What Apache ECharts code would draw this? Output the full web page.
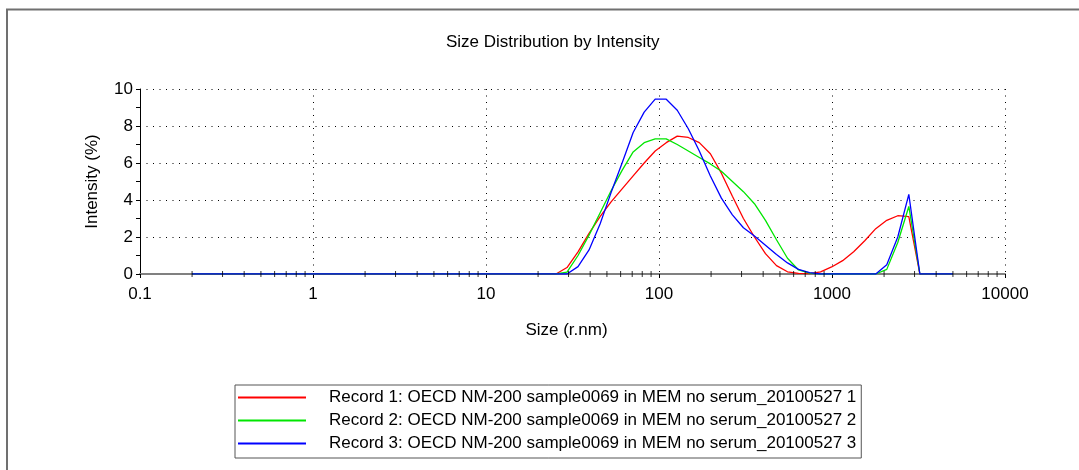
<!DOCTYPE html>
<html>
<head>
<meta charset="utf-8">
<script src="https://cdn.jsdelivr.net/npm/echarts@6/dist/echarts.min.js"></script>
<style>
html,body{margin:0;padding:0;background:#fff;}
#c{width:1079px;height:470px;}
</style>
</head>
<body>
<div id="c"></div>
<script>
// Size bins (radius, nm)
const sizes = [0.2,0.2316,0.2683,0.3107,0.3598,0.4166,0.4825,0.5587,0.647,0.7495,
  0.868,1.005,1.164,1.348,1.561,1.808,2.094,2.425,2.808,3.252,
  3.766,4.361,5.05,5.85,6.77,7.845,9.085,10.52,12.18,14.11,
  16.34,18.92,21.91,25.38,29.39,34.03,39.41,45.64,52.85,61.2,
  70.9,82.1,95.05,110.1,127.5,147.7,171.0,198.1,229.4,265.6,
  307.6,356.2,412.5,477.7,553.0,640.5,742.0,859.0,995.0,1152,
  1334,1546,1790,2073,2400,2780,3220,3728,4318,5000];

const record1 = [0,0,0,0,0,0,0,0,0,0, 0,0,0,0,0,0,0,0,0,0, 0,0,0,0,0,0,0,0,0,0,
  0,0,0,0,0.35,1.2,2.2,3.1,3.9,4.6,
  5.3,6.0,6.65,7.1,7.45,7.38,7.1,6.5,5.45,4.2,
  3.0,2.0,1.1,0.45,0.12,0.03,0.02,0.12,0.38,0.72,
  1.2,1.8,2.45,2.9,3.15,3.1,0,0,0,0];

const record2 = [0,0,0,0,0,0,0,0,0,0, 0,0,0,0,0,0,0,0,0,0, 0,0,0,0,0,0,0,0,0,0,
  0,0,0,0,0.1,1.0,2.1,3.3,4.5,5.6,
  6.6,7.1,7.3,7.3,7.0,6.65,6.3,5.95,5.55,5.0,
  4.45,3.8,2.9,1.85,0.85,0.22,0.05,0,0,0,
  0,0,0,0.25,1.7,3.65,0,0,0,0];

const record3 = [0,0,0,0,0,0,0,0,0,0, 0,0,0,0,0,0,0,0,0,0, 0,0,0,0,0,0,0,0,0,0,
  0,0,0,0,0,0.4,1.3,2.7,4.4,6.0,
  7.65,8.75,9.45,9.45,8.85,7.85,6.65,5.3,4.1,3.2,
  2.5,2.05,1.55,1.05,0.6,0.25,0.08,0,0,0,
  0,0,0,0.5,2.0,4.3,0,0,0,0];

const seriesNames = [
  'Record 1: OECD NM-200 sample0069 in MEM no serum_20100527 1',
  'Record 2: OECD NM-200 sample0069 in MEM no serum_20100527 2',
  'Record 3: OECD NM-200 sample0069 in MEM no serum_20100527 3'
];
const seriesColors = ['#ff0000', '#00e600', '#0000ff'];
const xMinorTicks = [0.2,0.3,0.4,0.5,0.6,0.7,0.8,0.9, 2,3,4,5,6,7,8,9,
  20,30,40,50,60,70,80,90, 200,300,400,500,600,700,800,900, 2000,3000,4000,5000,6000,7000,8000,9000];

const FONT = 'Liberation Sans, Arial, sans-serif';
const records = [record1, record2, record3];

const chart = echarts.init(document.getElementById('c'), null, {renderer: 'canvas'});

const lineSeries = records.map((rec, k) => ({
  name: seriesNames[k],
  type: 'line',
  data: sizes.map((s, i) => [s, rec[i]]),
  symbol: 'none',
  showSymbol: false,
  lineStyle: {color: seriesColors[k], width: 1.3},
  itemStyle: {color: seriesColors[k]},
  z: 2 + k,
  animation: false
}));

const option = {
  animation: false,
  backgroundColor: '#fff',
  textStyle: {fontFamily: FONT},
  title: {
    text: 'Size Distribution by Intensity',
    left: 441,
    top: 29,
    textStyle: {fontFamily: FONT, fontSize: 17, fontWeight: 'normal', color: '#000'}
  },
  grid: {left: 140, right: 74, top: 89, bottom: 196, containLabel: false},
  xAxis: {
    type: 'log',
    logBase: 10,
    min: 0.1,
    max: 10000,
    name: 'Size (r.nm)',
    nameLocation: 'middle',
    nameGap: 48,
    nameTextStyle: {fontFamily: FONT, fontSize: 17, color: '#000', padding: [0, 12, 0, 0]},
    axisLine: {show: true, onZero: false, lineStyle: {color: '#808080', width: 2}},
    axisTick: {show: true, length: 4, lineStyle: {color: '#000', width: 1}},
    axisLabel: {
      fontFamily: FONT, fontSize: 17, color: '#000', margin: 12,
      formatter: v => String(parseFloat(Number(v).toPrecision(6)))
    },
    splitLine: {show: true, showMinLine: false, lineStyle: {color: '#000', type: [1, 5.5], width: 1}}
  },
  yAxis: {
    type: 'value',
    min: 0,
    max: 10,
    interval: 2,
    name: 'Intensity (%)',
    nameLocation: 'middle',
    nameGap: 39,
    nameTextStyle: {fontFamily: FONT, fontSize: 17, color: '#000'},
    axisLine: {show: true, lineStyle: {color: '#000', width: 1}},
    axisTick: {show: true, length: 4, lineStyle: {color: '#000'}},
    minorTick: {show: true, splitNumber: 2, length: 4, lineStyle: {color: '#000'}},
    axisLabel: {fontFamily: FONT, fontSize: 17, color: '#000', margin: 7},
    splitLine: {show: true, showMinLine: false, lineStyle: {color: '#000', type: [1, 5.5], width: 1}}
  },
  legend: {
    orient: 'vertical',
    left: 235,
    top: 385,
    data: seriesNames,
    icon: 'rect',
    itemWidth: 68,
    itemHeight: 2,
    itemGap: 6,
    padding: [4, 5, 6, 3],
    borderColor: '#555',
    borderWidth: 1,
    textStyle: {fontFamily: FONT, fontSize: 17, color: '#000', lineHeight: 17, padding: [0, 0, 0, 18]},
    selectedMode: false
  },
  graphic: [
    {type: 'line', shape: {x1: 7, y1: 9, x2: 7, y2: 470}, style: {stroke: '#707070', lineWidth: 2}, silent: true},
    {type: 'line', shape: {x1: 6, y1: 9.5, x2: 1079, y2: 9.5}, style: {stroke: '#707070', lineWidth: 2}, silent: true}
  ],
  series: lineSeries.concat([{
    type: 'scatter',
    data: xMinorTicks.map(v => [v, 0]),
    symbol: 'rect',
    symbolSize: [1, 6],
    itemStyle: {color: '#000'},
    silent: true,
    z: 10,
    animation: false
  }])
};

chart.setOption(option);
</script>
</body>
</html>
